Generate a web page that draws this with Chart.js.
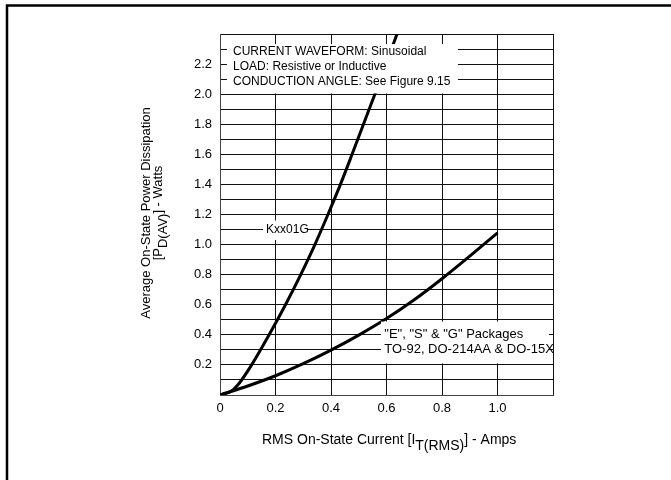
<!DOCTYPE html>
<html>
<head>
<meta charset="utf-8">
<script src="https://cdn.jsdelivr.net/npm/chart.js@4.4.1/dist/chart.umd.min.js"></script>
<style>
  html, body { margin: 0; padding: 0; background: #fff; }
  #wrap { width: 671px; height: 480px; }
</style>
</head>
<body>
<div id="wrap"><canvas id="chart" width="671" height="480"></canvas></div>
<script>
// RMS on-state current (A) vs average on-state power dissipation (W)
const kxxCurrent = [0, 0.04, 0.07, 0.114, 0.177, 0.236, 0.291, 0.342, 0.389, 0.434, 0.476, 0.517, 0.558, 0.598, 0.638];
const kxxPower   = [0, 0.025, 0.08, 0.2, 0.4, 0.6, 0.8, 1.0, 1.2, 1.4, 1.6, 1.8, 2.0, 2.2, 2.4];

const pkgCurrent = [0, 0.1, 0.2, 0.3, 0.4, 0.5, 0.6, 0.7, 0.8, 0.9, 1.0];
const pkgPower   = [0, 0.06, 0.128, 0.208, 0.298, 0.398, 0.508, 0.633, 0.773, 0.923, 1.078];

const xTickLabels = ['0', '0.2', '0.4', '0.6', '0.8', '1.0'];
const yTickLabels = ['0.2', '0.4', '0.6', '0.8', '1.0', '1.2', '1.4', '1.6', '1.8', '2.0', '2.2'];

const noteLines = ['CURRENT WAVEFORM: Sinusoidal', 'LOAD: Resistive or Inductive', 'CONDUCTION ANGLE: See Figure 9.15'];
const pkgLines = ['"E", "S" & "G" Packages', 'TO-92, DO-214AA & DO-15X'];
const kxxLabel = 'Kxx01G';

const FONT = 'Arial, "Liberation Sans", sans-serif';

function toPoints(xs, ys) {
  return xs.map((x, i) => ({ x: x, y: ys[i] }));
}

// white label boxes, titles with subscripts, page frame
const decorations = {
  id: 'decorations',
  beforeDraw(chart) {
    const ctx = chart.ctx;
    ctx.save();
    ctx.fillStyle = '#fff';
    ctx.fillRect(0, 0, chart.width, chart.height);
    ctx.restore();
  },
  afterDatasetsDraw(chart) {
    const ctx = chart.ctx;
    const xs = chart.scales.x;
    const ys = chart.scales.y;
    ctx.save();
    ctx.textBaseline = 'middle';
    ctx.textAlign = 'left';

    // condition note, top left (covers grid and curve)
    ctx.font = '12px ' + FONT;
    ctx.fillStyle = '#fff';
    ctx.fillRect(xs.getPixelForValue(0.025), ys.getPixelForValue(2.333), 231, ys.getPixelForValue(2.005) - ys.getPixelForValue(2.333));
    ctx.fillStyle = '#000';
    noteLines.forEach((t, i) => ctx.fillText(t, xs.getPixelForValue(0.047), ys.getPixelForValue(2.28) + i * 14.7));

    // Kxx01G label
    ctx.fillStyle = '#fff';
    ctx.fillRect(xs.getPixelForValue(0.155), ys.getPixelForValue(1.16), 45, ys.getPixelForValue(1.03) - ys.getPixelForValue(1.16));
    ctx.fillStyle = '#000';
    ctx.fillText(kxxLabel, xs.getPixelForValue(0.166), ys.getPixelForValue(1.1));

    // package label
    ctx.font = '13px ' + FONT;
    ctx.fillStyle = '#fff';
    ctx.fillRect(xs.getPixelForValue(0.58), ys.getPixelForValue(0.488), 168, ys.getPixelForValue(0.21) - ys.getPixelForValue(0.488));
    ctx.fillStyle = '#000';
    pkgLines.forEach((t, i) => ctx.fillText(t, xs.getPixelForValue(0.592), ys.getPixelForValue(0.4) + i * 15));

    // x axis title with subscript
    ctx.font = '14px ' + FONT;
    ctx.textBaseline = 'alphabetic';
    let x = 262;
    const base = 444;
    const parts = [['RMS On-State Current [I', 0], ['T(RMS)', 6], ['] - Amps', 0]];
    parts.forEach(([t, dy]) => {
      ctx.fillText(t, x, base + dy);
      x += ctx.measureText(t).width;
    });

    // y axis title, rotated
    ctx.font = '13px ' + FONT;
    ctx.save();
    ctx.translate(150, 213);
    ctx.rotate(-Math.PI / 2);
    ctx.textAlign = 'center';
    ctx.fillText('Average On-State Power Dissipation', 0, 0);
    const yParts = [['[P', 0], ['D(AV)', 5], ['] - Watts', 0]];
    const total = yParts.reduce((s, p) => s + ctx.measureText(p[0]).width, 0);
    let px = -total / 2;
    ctx.textAlign = 'left';
    yParts.forEach(([t, dy]) => {
      ctx.fillText(t, px, 12 + dy);
      px += ctx.measureText(t).width;
    });
    ctx.restore();

    // page frame (top and left edges)
    ctx.strokeStyle = '#000';
    ctx.lineWidth = 2.5;
    ctx.beginPath();
    ctx.moveTo(671, 5.5);
    ctx.lineTo(7, 5.5);
    ctx.lineTo(7, 480);
    ctx.stroke();
    ctx.restore();
  }
};

new Chart(document.getElementById('chart'), {
  type: 'line',
  data: {
    datasets: [
      {
        label: 'Kxx01G',
        data: toPoints(kxxCurrent, kxxPower),
        borderColor: '#000',
        borderWidth: 3,
        pointRadius: 0,
        cubicInterpolationMode: 'monotone',
        fill: false
      },
      {
        label: 'E, S & G Packages',
        data: toPoints(pkgCurrent, pkgPower),
        borderColor: '#000',
        borderWidth: 3,
        pointRadius: 0,
        cubicInterpolationMode: 'monotone',
        fill: false
      }
    ]
  },
  options: {
    responsive: false,
    animation: false,
    layout: { padding: { top: 34, right: 118, left: 0, bottom: 0 } },
    plugins: {
      legend: { display: false },
      tooltip: { enabled: false },
      title: { display: false }
    },
    scales: {
      x: {
        type: 'linear',
        min: 0,
        max: 1.2,
        afterFit(scale) { scale.height = 85; },
        grid: { color: '#111', lineWidth: 1, drawTicks: false },
        border: { color: '#444', width: 1 },
        ticks: {
          stepSize: 0.2,
          padding: 6,
          color: '#000',
          font: { family: FONT, size: 13 },
          maxRotation: 0,
          autoSkip: false,
          callback(v) {
            const i = Math.round(v / 0.2);
            return xTickLabels[i] !== undefined ? xTickLabels[i] : '';
          }
        }
      },
      y: {
        type: 'linear',
        min: 0,
        max: 2.4,
        afterFit(scale) { scale.width = 220; },
        grid: { color: '#111', lineWidth: 1, drawTicks: false },
        border: { color: '#444', width: 1 },
        ticks: {
          stepSize: 0.1,
          padding: 8,
          color: '#000',
          font: { family: FONT, size: 13 },
          autoSkip: false,
          callback(v) {
            const tenth = Math.round(v * 10);
            if (tenth % 2 !== 0) return '';
            const label = yTickLabels[tenth / 2 - 1];
            return label !== undefined ? label : '';
          }
        }
      }
    }
  },
  plugins: [decorations]
});
</script>
</body>
</html>
